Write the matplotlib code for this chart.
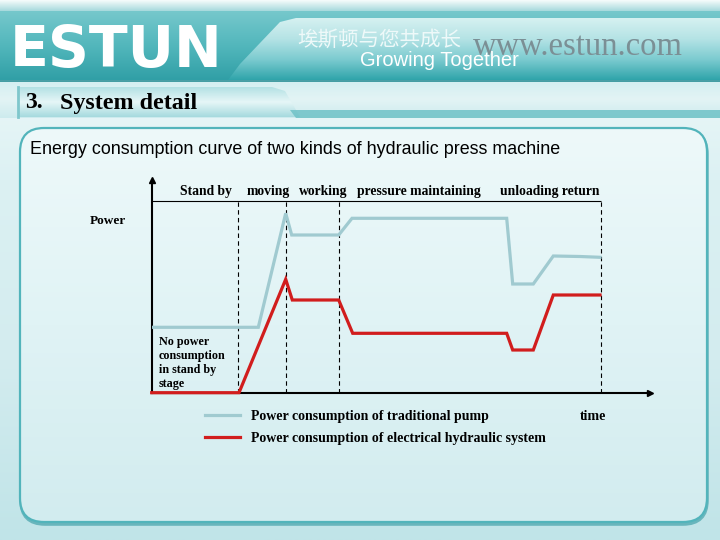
import numpy as np
import matplotlib
matplotlib.use("Agg")
import matplotlib.pyplot as plt
from matplotlib.colors import LinearSegmentedColormap
from matplotlib.patches import FancyBboxPatch, Polygon

# ---------------- data ----------------
trad_t = [0, 106.6, 134, 140, 187, 200.3, 355, 361, 381.6, 401.6, 428.3, 448.3]
trad_p = [65.7, 65.7, 179.7, 158, 158, 174.7, 174.7, 109, 109, 137, 136.5, 135.7]
elec_t = [0, 87.3, 134, 140.6, 187, 201, 355, 361, 381.6, 401.6, 448.3]
elec_p = [0.3, 0.3, 113.7, 93, 93, 59.7, 59.7, 43, 43, 98, 98]
stage_bounds = [86.6, 134, 187, 449]
stage_names = ["Stand by", "moving", "working", "pressure maintaining", "unloading return"]
stage_centers = [53.8, 116.3, 171.8, 267.3, 397.8]
series_labels = ["Power consumption of traditional pump",
                 "Power consumption of electrical hydraulic system"]
note_text = "No power\nconsumption\nin stand by\nstage"

SERIF = ["Liberation Serif", "DejaVu Serif"]
SANS = ["Liberation Sans", "DejaVu Sans"]

fig = plt.figure(figsize=(7.2, 5.4), dpi=100)

# ---------------- slide background (pixel coordinates) ----------------
bg = fig.add_axes([0, 0, 1, 1])
bg.axis("off")


def vgrad(ax, x0, x1, y0, y1, colors, clip=None, z=0):
    arr = np.linspace(0, 1, 256).reshape(-1, 1)
    cmap = LinearSegmentedColormap.from_list("g", colors)
    im = ax.imshow(arr, extent=(x0, x1, y1, y0), origin="upper", aspect="auto",
                   cmap=cmap, zorder=z, interpolation="bilinear")
    if clip is not None:
        im.set_clip_path(clip)
    return im


def hgrad(ax, x0, x1, y0, y1, colors, clip=None, z=0):
    arr = np.linspace(0, 1, 256).reshape(1, -1)
    cmap = LinearSegmentedColormap.from_list("h", colors)
    im = ax.imshow(arr, extent=(x0, x1, y1, y0), origin="upper", aspect="auto",
                   cmap=cmap, zorder=z, interpolation="bilinear")
    if clip is not None:
        im.set_clip_path(clip)
    return im


# overall background
vgrad(bg, 0, 720, 0, 540, ["#f6fcfc", "#dcf1f3", "#d3ecef", "#c0e4e8"], z=0)
# top banner
vgrad(bg, 0, 720, 0, 11, ["#f7fcfc", "#a6d9dc"], z=1)
vgrad(bg, 0, 720, 11, 80, ["#76c8cc", "#52b7bc", "#309fa6"], z=1)
# right lighter banner patch
ts = np.linspace(0, 1, 20)
pts = [(228, 80)] + [(240 + 40 * t, 64 - 42 * t) for t in ts] + [(296, 18), (720, 18), (720, 80)]
patch = Polygon(pts, closed=True, facecolor="none", edgecolor="none", zorder=2)
bg.add_patch(patch)
vgrad(bg, 220, 720, 18, 80, ["#d6f1f1", "#b5e3e5", "#7ccbd0", "#2fa4aa"], clip=patch, z=2)
bg.plot([0, 720], [80.5, 80.5], color="#2a8e95", lw=1.2, zorder=3)
vgrad(bg, 0, 720, 81, 118, ["#d4eff1", "#e3f4f5", "#cdebee"], z=1)
# section tab
tab_pts = [(18, 87), (272, 87), (285, 91), (300, 117), (18, 117)]
tab = Polygon(tab_pts, closed=True, facecolor="none", edgecolor="none", zorder=2)
bg.add_patch(tab)
vgrad(bg, 18, 300, 87, 117, ["#b3e1e4", "#e6f6f7", "#a5dade"], clip=tab, z=2)
bg.plot([18, 18], [87, 117], color="#7fc7cc", lw=2, zorder=3)
strip = Polygon([(290, 110), (720, 110), (720, 118), (296, 118)], closed=True,
                facecolor="#6fc2c7", edgecolor="none", zorder=2, alpha=0.85)
bg.add_patch(strip)

# content panel
shadow = FancyBboxPatch((21, 130), 686, 394, boxstyle="round,pad=0,rounding_size=24",
                        facecolor="none", edgecolor="#2e97a0", lw=2.6, zorder=3, alpha=0.6)
bg.add_patch(shadow)
panel = FancyBboxPatch((20, 128), 687, 394, boxstyle="round,pad=0,rounding_size=24",
                       facecolor="none", edgecolor="#52b4bb", lw=1.6, zorder=5)
bg.add_patch(panel)
vgrad(bg, 20, 707, 128, 522, ["#eef9fa", "#e0f3f5", "#d2ecef"], clip=panel, z=4)

# banner text
bg.text(10, 52, "ESTUN", color="white", fontsize=41, fontweight="bold",
        family=["DejaVu Sans"], va="center", ha="left", zorder=6)
bg.text(297, 40, "埃斯顿与您共成长", color="#eef9f9", fontsize=14.8,
        family=["Noto Sans CJK SC", "DejaVu Sans"], va="center", ha="left", zorder=6)
bg.text(473, 47, "www.estun.com", color="#7b8f95", fontsize=23.5,
        family=SERIF, va="center", ha="left", zorder=6)
bg.text(360, 60, "Growing Together", color="white", fontsize=14.5,
        family=SANS, va="center", ha="left", zorder=7)
bg.text(25, 103, "3.", color="black", fontsize=17, fontweight="bold",
        family=SERIF, va="center", ha="left", zorder=6)
bg.text(60, 103, "System detail", color="black", fontsize=17.3, fontweight="bold",
        family=SERIF, va="center", ha="left", zorder=6)
bg.text(30, 150, "Energy consumption curve of two kinds of hydraulic press machine",
        color="black", fontsize=12.9, family=SANS, va="center", ha="left", zorder=6)

bg.set_xlim(0, 720)
bg.set_ylim(540, 0)

# ---------------- chart ----------------
ax = fig.add_axes([151.7 / 720, 1 - 393 / 540, (650 - 151.7) / 720, (393 - 180) / 540])
ax.patch.set_alpha(0)
ax.set_xlim(0, 498.3)
ax.set_ylim(0, 213)
for s in ["top", "right"]:
    ax.spines[s].set_visible(False)
for s in ["left", "bottom"]:
    ax.spines[s].set_linewidth(1.5)
    ax.spines[s].set_color("black")
ax.set_xticks([])
ax.set_yticks([])
ax.plot(1, 0, ">", color="black", ms=5, transform=ax.transAxes, clip_on=False, zorder=6)
ax.plot(0, 1, "^", color="black", ms=4, transform=ax.transAxes, clip_on=False, zorder=6)

ax.vlines(stage_bounds, 0, 191.5, colors="black", linestyles=(0, (4, 3)), lw=0.8, zorder=2)
ax.hlines(191.5, 0, 449, colors="black", lw=0.8, zorder=2)

l1, = ax.plot(trad_t, trad_p, color="#a0cad0", lw=2.3, solid_joinstyle="miter", zorder=4,
              label=series_labels[0])
l2, = ax.plot(elec_t, elec_p, color="#d11d1d", lw=2.3, solid_joinstyle="miter", zorder=5,
              label=series_labels[1], clip_on=False)

for name, c in zip(stage_names, stage_centers):
    ax.text(c, 201, name, fontsize=9.8, fontweight="bold", family=SERIF,
            ha="center", va="center", clip_on=False)
ax.text(-43.7, 172, "Power", fontsize=9.5, fontweight="bold", family=SERIF,
        ha="center", va="center", clip_on=False)
ax.text(7, 57, note_text, fontsize=8.7, fontweight="bold", family=SERIF,
        ha="left", va="top", linespacing=1.22)
ax.text(441.8, -24, "time", fontsize=10, fontweight="bold", family=SERIF,
        ha="center", va="center", clip_on=False)

ax.legend(handles=[l1, l2], loc="upper left", bbox_to_anchor=(205 / 720, 1 - 410 / 540),
          bbox_transform=fig.transFigure, frameon=False, borderaxespad=0, borderpad=0,
          handlelength=2.5, handletextpad=0.8, labelspacing=0.65,
          prop={"family": SERIF, "weight": "bold", "size": 10})

fig.savefig("out.png", dpi=100)
